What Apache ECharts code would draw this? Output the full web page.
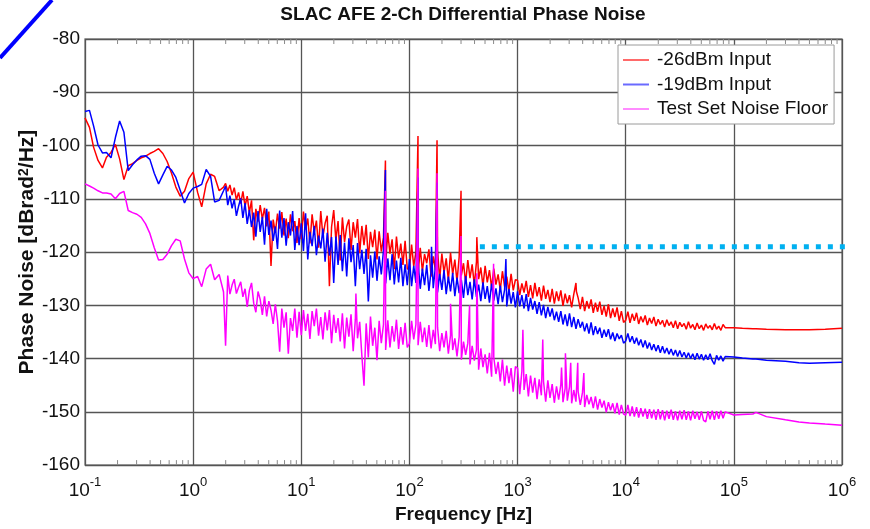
<!DOCTYPE html>
<html>
<head>
<meta charset="utf-8">
<script src="https://cdn.jsdelivr.net/npm/echarts@6/dist/echarts.min.js"></script>
<style>
html,body{margin:0;padding:0;background:#fff;}
#chart{width:870px;height:529px;}
</style>
</head>
<body>
<div id="chart"></div>
<script>
// ---- data ----
const titleText = 'SLAC AFE 2-Ch Differential Phase Noise';
const seriesNames = ['-26dBm Input', '-19dBm Input', 'Test Set Noise Floor'];
const xTickExponents = ['-1', '0', '1', '2', '3', '4', '5', '6'];
const yTicks = [-160, -150, -140, -130, -120, -110, -100, -90, -80];

// shared frequency grid [Hz]
const freqHz = [
  // 0.1 .. 1.91 Hz
  0.1,0.11,0.12,0.132,0.145,0.158,0.174,0.191,0.209,0.229,0.251,0.275,0.302,0.331,0.363,0.398,0.437,0.479,0.525,0.575,0.631,0.692,0.759,0.832,0.912,
  1,1.1,1.2,1.32,1.45,1.58,1.74,1.91,
  // 2 .. 9.55 Hz
  1.995,2.089,2.188,2.291,2.399,2.512,2.63,2.754,2.884,3.02,3.162,3.311,3.467,3.631,3.802,3.981,4.169,4.365,4.571,4.786,5.012,5.248,5.495,5.754,6.026,6.31,6.607,6.918,7.244,7.586,7.943,8.318,8.71,9.12,9.55,
  // 10 .. 95.5 Hz
  10,10.47,10.96,11.48,12.02,12.59,13.18,13.8,14.45,15.14,15.85,16.6,17.38,18.2,19.05,19.95,20.89,21.88,22.91,23.99,25.12,26.3,27.54,28.84,30.2,31.62,33.11,34.67,36.31,38.02,39.81,41.69,43.65,45.71,47.86,50.12,52.48,54.95,57.54,60.26,63.1,66.07,69.18,72.44,75.86,79.43,83.18,87.1,91.2,95.5,
  // 100 .. 955 Hz
  100,104.7,109.6,114.8,120.2,125.9,131.8,138,144.5,151.4,158.5,166,173.8,182,190.5,199.5,208.9,218.8,229.1,239.9,251.2,263,275.4,288.4,302,316.2,331.1,346.7,363.1,380.2,398.1,416.9,436.5,457.1,478.6,501.2,524.8,549.5,575.4,602.6,631,660.7,691.8,724.4,758.6,794.3,831.8,871,912,955,
  // 1 .. 9.55 kHz
  1000,1047,1096,1148,1202,1259,1318,1380,1445,1514,1585,1660,1738,1820,1905,1995,2089,2188,2291,2399,2512,2630,2754,2884,3020,3162,3311,3467,3631,3802,3981,4169,4365,4571,4786,5012,5248,5495,5754,6026,6310,6607,6918,7244,7586,7943,8318,8710,9120,9550,
  // 10 .. 83 kHz
  10000,10470,10960,11480,12020,12590,13180,13800,14450,15140,15850,16600,17380,18200,19050,19950,20890,21880,22910,23990,25120,26300,27540,28840,30200,31620,33110,34670,36310,38020,39810,41690,43650,45710,47860,50120,52480,54950,57540,60260,63100,66070,69180,72440,75860,79430,83180,
  // 100 kHz .. 1 MHz
  100000,120000,150000,160000,200000,300000,400000,500000,700000,1000000
];

// -26dBm Input [dBrad^2/Hz]
const red26 = [
  -94.8,-96.6,-100.3,-102.8,-104.2,-102.2,-101.3,-99.8,-102.5,-106.4,-103.8,-103.4,-102.8,-102.3,-102,-101.5,-101.1,-100.6,-101.5,-103,-105.2,-107.8,-109.5,-108.6,-106.2,
  -105,-108.8,-111.5,-107.2,-105.4,-105.8,-108.5,-107.8,
  -107.1,-108.6,-107.4,-109.3,-107.9,-110.2,-108.8,-110.9,-108.6,-111.4,-109.5,-112.6,-110.3,-117.8,-111.9,-114.3,-111.2,-113.8,-111.7,-115.2,-112.4,-122.6,-113.9,-116.4,-112.8,-115.6,-112.5,-116.9,-113.7,-117.4,-112.9,-116.1,-114.2,-118.3,-113.6,
  -117.6,-112.4,-115.8,-113.7,-118.4,-112.9,-116.3,-114.1,-119.2,-112.3,-117.1,-114.6,-113.2,-126.4,-115.3,-112.1,-117.8,-114.2,-121.6,-113.5,
  -118.1,-115.2,-113.9,-119.6,-114.4,-117.3,-113.8,-120.2,-115.1,-118.7,-114.9,-121.3,-116.2,-119.1,-115.8,-121.4,-116.1,-119.9,-117.2,-122.1,
  -116.4,-120.3,-117.6,-123.2,-117.1,-121.2,-118.4,-122.4,-117.9,-123.1,
  -123.4,-118.6,-122.7,-119.9,-124.3,-119.2,-123.6,-120.4,-122.1,-119.5,-124.6,-120.8,-123.4,-119.7,-125.1,-120.3,-123.9,-121.2,-125.3,-120.1,
  -124.2,-121.4,-125.6,-120.9,-124.4,-122.1,-125.8,-121.5,-124.9,-122.3,-126.2,-121.8,-125.1,-122.9,-126.4,-122.6,-125.7,-123.4,-126.7,-123.1,
  -126.1,-124.2,-127.1,-123.6,-126.5,-124.6,-127.4,-124.1,-127.2,-125.2,
  -125.3,-128.1,-125.9,-127.6,-125.4,-128.4,-126.2,-128.7,-125.8,-128.3,-126.6,-129.1,-126.3,-128.8,-127.1,-129.4,-126.9,-129.7,-127.4,-129.2,
  -127.2,-130.1,-127.8,-129.6,-128.1,-130.4,-127.9,-125.8,-128.6,-130.7,-128.4,-131.1,-129.2,-130.6,-128.9,-131.4,-129.5,-131.2,-129.3,-131.8,
  -130.1,-132.1,-129.8,-132.4,-130.6,-132.2,-130.4,-132.9,-131.1,-133.2,
  -132.8,-131.2,-133.3,-131.6,-132.9,-131.4,-133.5,-132.1,-133.2,-131.9,-133.7,-132.4,-133.4,-132.2,-133.9,-132.6,-133.6,-132.8,-134.1,-132.7,
  -133.8,-133.1,-134.2,-132.9,-134.4,-133.2,-134.0,-133.4,-134.5,-133.1,-134.3,-133.6,-134.6,-133.3,-134.4,-133.7,-134.7,-133.5,-134.3,-133.8,
  -134.6,-133.4,-134.5,-133.9,-134.7,-133.6,-134.2,
  -134.2,-134.3,-134.4,-134.4,-134.5,-134.6,-134.6,-134.6,-134.5,-134.3
];

// -19dBm Input
const blue19 = [
  -93.6,-93.4,-96.3,-99.9,-101.4,-101.3,-102.3,-98.5,-95.4,-97.5,-104.7,-103.6,-102.7,-102,-101.9,-102.6,-105.2,-107.2,-105.5,-103.9,-104.6,-106,-108.4,-110.8,-109,
  -108,-107.7,-107.3,-104.5,-105.8,-110.6,-110.3,-108.5,
  -107.6,-111.2,-109.4,-111.8,-110.1,-113.2,-111.4,-109.9,-113.6,-110.8,-114.7,-112.1,-115.3,-112.6,-117.1,-112.3,-116.2,-113.4,-118.6,-111.9,-116.8,-114.1,-117.9,-115.2,-119.4,-112.2,-117.3,-113.6,-118.8,-114.4,-116.9,-112.3,-119.6,-115.1,-118.7,
  -114.6,-119.8,-112.7,-121.4,-116.2,-118.9,-115.1,-120.6,-116.9,-119.3,-115.6,-121.8,-116.4,-120.7,-117.2,-125.8,-117.1,-122.4,-116.8,-123.6,
  -118.2,-124.6,-117.4,-121.9,-118.7,-126.4,-118.3,-123.2,-119.6,-124.1,-119.4,-129.3,-120.6,-124.8,-119.9,-125.4,-120.8,-124.2,-119.7,-125.9,
  -121.2,-125.3,-120.4,-126.1,-121.6,-125.7,-121.1,-126.4,-122.3,-126.2,
  -121.3,-126.4,-122.6,-125.8,-121.9,-126.9,-123.1,-126.2,-122.4,-127.3,-123.6,-126.8,-122.8,-127.6,-124.1,-127.1,-123.4,-127.9,-124.6,-127.4,
  -123.9,-128.3,-124.8,-127.7,-125.2,-128.6,-124.5,-128.1,-125.6,-128.9,-125.1,-128.4,-126.1,-129.2,-125.7,-128.8,-126.4,-129.5,-125.9,-129.1,
  -126.8,-129.8,-126.3,-129.4,-127.1,-130.2,-126.9,-129.7,-127.5,-130.4,
  -127.4,-130.2,-128.1,-130.6,-127.9,-131.1,-128.6,-130.8,-129.2,-131.6,-129.4,-131.9,-129.9,-132.4,-130.3,-132.1,-130.6,-132.8,-131.2,-133.1,
  -131.1,-133.6,-131.7,-133.9,-131.5,-134.1,-132.2,-134.4,-132.6,-134.2,-133.1,-134.9,-133.4,-135.3,-133.2,-135.6,-133.9,-135.4,-134.2,-136.1,
  -134.6,-135.9,-134.5,-136.4,-135.1,-136.7,-135.3,-136.3,-135.6,-137.1,
  -136.7,-135.3,-136.9,-135.8,-137.2,-136.1,-137.5,-136.4,-137.9,-136.6,-138.1,-137.0,-138.4,-137.3,-138.6,-137.5,-138.9,-137.7,-139.0,-138.0,
  -139.2,-138.2,-139.4,-138.4,-139.6,-138.5,-139.7,-138.8,-139.9,-138.9,-140.0,-139.1,-140.2,-139.0,-140.1,-139.2,-140.3,-139.3,-140.2,-139.1,
  -140.4,-141.1,-139.4,-140.3,-139.5,-140.5,-139.6,
  -139.7,-139.9,-140.1,-140.1,-140.3,-140.5,-140.8,-140.9,-140.8,-140.7
];

// Test Set Noise Floor
const pinkFloor = [
  -107.2,-107.6,-108,-108.5,-108.9,-108.9,-109.1,-110,-109,-108.6,-112.2,-112.6,-112.9,-113.5,-114.7,-116.5,-119.2,-121.5,-121.4,-120.4,-118.8,-117.6,-117.9,-121.3,-123.9,
  -125,-124.6,-126.5,-123.2,-122.3,-125.2,-124.2,-127.5,
  -137.6,-124.4,-127.9,-126.2,-125.1,-127.8,-126.6,-125.6,-128.4,-126.9,-130.3,-127.2,-125.8,-129.6,-131.3,-127.4,-128.9,-131.8,-128.3,-132.1,-129.2,-130.9,-133.5,-129.8,-132.9,-138.7,-130.6,-134.2,-131.3,-139.1,-132.4,-134.8,-130.6,-136.1,-131.2,
  -135.6,-130.9,-134.8,-131.6,-136.3,-131.1,-133.9,-130.6,-135.7,-132.2,-136.4,-131.3,-134.7,-130.9,-137.1,-131.8,-135.2,-132.4,-136.8,-131.5,
  -138.1,-132.3,-135.9,-131.7,-138.6,-132.6,-136.2,-133.1,-139.4,-145.1,-133.4,-139.8,-132.1,-137.6,-134.2,-140.3,-132.9,-137.1,-133.6,-138.4,
  -132.8,-137.9,-133.9,-136.8,-132.7,-138.2,-134.1,-137.4,-133.3,-137.9,
  -137.2,-132.9,-136.4,-133.6,-137.5,-133.1,-136.9,-134.2,-137.8,-133.7,-138.1,-134.6,-137.3,-134.1,-138.6,-135.2,-137.9,-134.8,-139.1,-135.6,
  -138.4,-136.2,-139.6,-135.9,-140.2,-136.8,-139.3,-137.1,-141.1,-137.6,-140.4,-138.3,-142.1,-138.1,-141.6,-139.2,-142.8,-138.9,-143.4,-139.8,
  -142.9,-140.6,-144.3,-140.2,-145.1,-141.3,-144.6,-141.8,-146.2,-141.5,
  -141.8,-146.7,-142.4,-145.9,-142.9,-147.1,-143.2,-146.4,-143.6,-147.6,-143.9,-146.9,-144.3,-148.1,-144.1,-147.4,-144.8,-148.3,-145.2,-147.7,
  -144.9,-148.2,-145.6,-147.9,-145.3,-148.4,-145.9,-148.1,-146.2,-148.7,-146.4,-149.1,-146.8,-148.6,-147.2,-149.3,-147.1,-149.6,-147.6,-149.2,
  -147.9,-150.1,-148.2,-149.7,-148.4,-150.3,-148.3,-150.5,-148.7,-150.4,
  -150.6,-148.7,-150.8,-149.0,-150.9,-149.1,-151.1,-149.3,-150.9,-149.4,-151.3,-149.5,-151.2,-149.6,-151.5,-149.5,-151.4,-149.7,-151.6,-149.8,
  -151.3,-149.6,-151.5,-149.9,-151.6,-149.8,-151.4,-149.7,-151.5,-149.9,-151.6,-149.8,-151.3,-150.0,-151.5,-149.9,-151.6,-151.9,-149.9,-151.4,
  -149.8,-151.5,-149.9,-151.3,-149.8,-151.2,-150.0,
  -150.6,-150.5,-150.4,-150.1,-150.9,-151.5,-151.9,-152.1,-152.3,-152.5
];

// line-harmonic spurs [Hz, dB]
const redSpurs = [[60,-102.8],[120,-98.2],[180,-99],[300,-108.5],[420,-117.2],[3500,-127.4]];
const blueSpurs = [[60,-104.6],[120,-106],[160,-119],[180,-107],[780,-121.3]];
const pinkSpurs = [[32,-127.8],[60,-108.5],[120,-104.3],[180,-105.2],[240,-129.7],[300,-117],[360,-130],[420,-124],[600,-122.2],[1120,-134.6],[1710,-136.4],[2550,-141.7],[2770,-139],[3100,-140.8],[3600,-140.8],[4100,-142.7]];

// dotted cyan reference level
const refLevelDb = -119;
const refLevelFromHz = 448;
const refLevelToHz = 1.08e6;

// minor tick multipliers for the log axis
const minorMult = [2,3,4,5,6,7,8,9];
const decades = [0.1,1,10,100,1000,10000,100000];

// ---- build ----
function merge(vals, spurs) {
  const pts = freqHz.map((f, i) => [f, vals[i]]);
  return pts.concat(spurs).sort((a, b) => a[0] - b[0]);
}
const FONT = '"Liberation Sans", Arial, Helvetica, sans-serif';
const minorTicks = [];
decades.forEach(d => minorMult.forEach(m => minorTicks.push(d * m)));

const chart = echarts.init(document.getElementById('chart'), null, {renderer: 'canvas'});

function tickRender(pos) {
  return function (params, api) {
    const p = api.coord([api.value(0), pos === 'bottom' ? -160 : -80]);
    const dir = pos === 'bottom' ? -1 : 1;
    return {
      type: 'line',
      shape: {x1: p[0], y1: p[1], x2: p[0], y2: p[1] + dir * 5},
      style: {stroke: '#8a8a8a', lineWidth: 1}
    };
  };
}

const option = {
  animation: false,
  backgroundColor: '#fff',
  textStyle: {fontFamily: FONT},
  title: {
    text: titleText,
    left: 463,
    top: 5,
    textAlign: 'center',
    padding: 0,
    textStyle: {fontSize: 19, fontWeight: 'bold', color: '#111', fontFamily: FONT}
  },
  graphic: [{
    type: 'line', z: 100,
    shape: {x1: 0, y1: 58, x2: 52, y2: 0},
    style: {stroke: '#0000ff', lineWidth: 4}
  }],
  legend: {
    orient: 'vertical',
    left: 618, top: 45,
    padding: [5, 6, 5, 5],
    itemGap: 4.5,
    itemWidth: 26, itemHeight: 2,
    icon: 'rect',
    backgroundColor: '#fff',
    borderColor: '#9a9a9a', borderWidth: 1,
    data: [
      {name: seriesNames[0], itemStyle: {color: '#ff6a6a'}},
      {name: seriesNames[1], itemStyle: {color: '#6a6aff'}},
      {name: seriesNames[2], itemStyle: {color: '#ff8cff'}}
    ],
    textStyle: {fontSize: 19, color: '#111', fontFamily: FONT, lineHeight: 20, padding: [0, 0, 0, 3]}
  },
  grid: {
    left: 85, top: 39, width: 757, height: 431,
    show: true, borderColor: '#8c8c8c', borderWidth: 1.5, backgroundColor: '#fff',
    containLabel: false
  },
  xAxis: {
    type: 'log', logBase: 10, min: 0.1, max: 1e6,
    name: 'Frequency [Hz]', nameLocation: 'middle', nameGap: 29,
    nameTextStyle: {fontSize: 19, fontWeight: 'bold', color: '#111', fontFamily: FONT},
    axisLine: {show: false},
    axisTick: {show: false},
    splitLine: {show: true, lineStyle: {color: '#555', width: 1.3}},
    axisLabel: {
      margin: 11,
      color: '#111',
      formatter: function (v) {
        const idx = Math.round(Math.log10(v)) + 1;
        return '{b|10}{s|' + xTickExponents[idx] + '}';
      },
      rich: {
        b: {fontSize: 19, fontFamily: FONT, color: '#111', lineHeight: 24, verticalAlign: 'bottom'},
        s: {fontSize: 13, fontFamily: FONT, color: '#111', verticalAlign: 'top', lineHeight: 14}
      }
    }
  },
  yAxis: {
    type: 'value', min: -160, max: -80, interval: 10,
    name: 'Phase Noise [dBrad{s|2}/Hz]', nameLocation: 'middle', nameGap: 47, nameRotate: 90,
    nameMoveOverlap: false,
    nameTextStyle: {
      fontSize: 21, fontWeight: 'bold', color: '#111', fontFamily: FONT,
      rich: {s: {fontSize: 14, fontWeight: 'bold', color: '#111', fontFamily: FONT, verticalAlign: 'top', lineHeight: 15}}
    },
    axisLine: {show: false},
    axisTick: {show: false},
    splitLine: {show: true, lineStyle: {color: '#555', width: 1.3}},
    axisLabel: {
      margin: 5, fontSize: 19, color: '#111', fontFamily: FONT,
      formatter: v => (yTicks.indexOf(v) >= 0 ? String(v) : '')
    }
  },
  series: [
    {
      name: seriesNames[0], type: 'line', data: merge(red26, redSpurs),
      symbol: 'none', lineStyle: {color: '#ff0000', width: 1.5}, itemStyle: {color: '#ff0000'}, z: 2
    },
    {
      name: seriesNames[1], type: 'line', data: merge(blue19, blueSpurs),
      symbol: 'none', lineStyle: {color: '#0000ff', width: 1.5}, itemStyle: {color: '#0000ff'}, z: 3
    },
    {
      name: seriesNames[2], type: 'line', data: merge(pinkFloor, pinkSpurs),
      symbol: 'none', lineStyle: {color: '#ff00ff', width: 1.5}, itemStyle: {color: '#ff00ff'}, z: 4
    },
    {
      name: 'ref', type: 'line', clip: false,
      data: [[refLevelFromHz, refLevelDb], [refLevelToHz, refLevelDb]],
      symbol: 'none', lineStyle: {color: '#00b0f0', width: 5, type: [5, 7], cap: 'butt'}, z: 5
    },
    {
      name: 'minorBottom', type: 'custom', data: minorTicks.map(v => [v, -160]),
      renderItem: tickRender('bottom'), silent: true, z: 6
    },
    {
      name: 'minorTop', type: 'custom', data: minorTicks.map(v => [v, -80]),
      renderItem: tickRender('top'), silent: true, z: 6
    }
  ]
};
if (freqHz.length !== red26.length || freqHz.length !== blue19.length || freqHz.length !== pinkFloor.length) {
  console.error('length mismatch', freqHz.length, red26.length, blue19.length, pinkFloor.length);
}
chart.setOption(option);
</script>
</body>
</html>
